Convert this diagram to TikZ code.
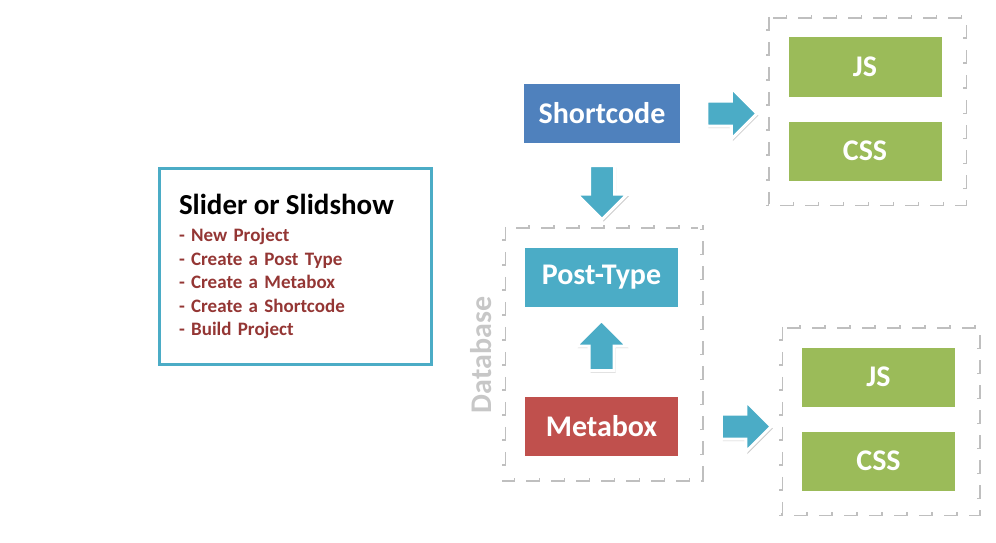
\documentclass[tikz,border=0pt]{standalone}
\usepackage{fontspec}
\setmainfont{Carlito}
\usepackage{tikz}
\usetikzlibrary{calc}
\usetikzlibrary{positioning}
\usetikzlibrary{fit}
\usetikzlibrary{shapes.arrows}
\usetikzlibrary{shadows}
\definecolor{scblue}{HTML}{4F81BD}
\definecolor{ptteal}{HTML}{4BACC6}
\definecolor{mbred}{HTML}{C0504D}
\definecolor{jsgreen}{HTML}{9BBB59}
\definecolor{itemred}{HTML}{943634}

\begin{document}
\begin{tikzpicture}[x=1pt,y=-1pt,
  every node/.style={font=\bfseries\fontsize{30}{34}\selectfont,text=white},
  block/.style={draw=white,line width=5pt,minimum width=158pt,minimum height=64pt,
    drop shadow={opacity=0.4,shadow xshift=1.5pt,shadow yshift=-2pt}},
  grp/.style={draw=none,inner sep=17pt},
  dashline/.style={draw=white,line width=4pt,dash pattern=on 14pt off 11pt},
  dashshade/.style={draw=black!25,line width=4pt,dash pattern=on 14pt off 11pt},
  fatarrow/.style={single arrow,fill=ptteal,draw=white,line width=3pt,inner sep=11pt,
    single arrow head extend=13pt,minimum height=50pt,
    drop shadow={opacity=0.4,shadow xshift=1.5pt,shadow yshift=-2pt}}]

  \useasboundingbox (0,0) rectangle (996,543);

  % project steps
  \draw node[draw=ptteal,line width=3pt,text=itemred,align=left,anchor=north west,
    minimum width=272pt,minimum height=196pt,text width=233pt,inner xsep=19.5pt,
    outer sep=0pt,font=\bfseries\fontsize{19}{23.5}\selectfont] at (159.5,168.5) (intro)
    {{\color{black}\fontsize{29}{28}\selectfont Slider or Slidshow}\\[4pt]
     - New Project\\
     - Create a Post Type\\
     - Create a Metabox\\
     - Create a Shortcode\\
     - Build Project};

  % shortcode and its assets
  \draw node[block,fill=scblue,minimum width=161pt] at (602,113.5) (short) {Shortcode};
  \draw node[block,fill=jsgreen] at (865,67) (js1) {JS};
  \draw node[block,fill=jsgreen] at (865,151) (css1) {CSS};
  \node[grp,fit=(js1)(css1)] (topgrp) {};

  % database part
  \draw node[block,fill=ptteal] at (601.5,277) (post) {Post-Type};
  \draw node[block,fill=mbred] at (601.5,426.5) (meta) {Metabox};
  \node[grp,fit=(post)(meta)] (dbgrp) {};
  \draw node[rotate=90,text=black!22] at (481,355) (dblabel) {Database};

  \draw node[block,fill=jsgreen] at (878.5,377) (js2) {JS};
  \draw node[block,fill=jsgreen] at (878.5,461) (css2) {CSS};
  \node[grp,fit=(js2)(css2)] (botgrp) {};

  \foreach \g in {topgrp,dbgrp,botgrp} {
    \draw[dashshade] ([shift={(1.5,1.5)}]\g.north west) rectangle ([shift={(1.5,1.5)}]\g.south east);
    \draw[dashline] (\g.north west) rectangle (\g.south east);
  }

  % block arrows
  \draw node[fatarrow] at ($(short.east)!0.5!(topgrp.west |- short)$) (a1) {};
  \draw node[fatarrow,shape border rotate=270,minimum height=54pt,below=16pt of short] (a2) {};
  \draw node[fatarrow,shape border rotate=90] at ($(post.south)!0.5!(meta.north)$) (a3) {};
  \draw node[fatarrow] at ($(dbgrp.east |- meta)!0.5!(botgrp.west |- meta)$) (a4) {};

\end{tikzpicture}
\end{document}
